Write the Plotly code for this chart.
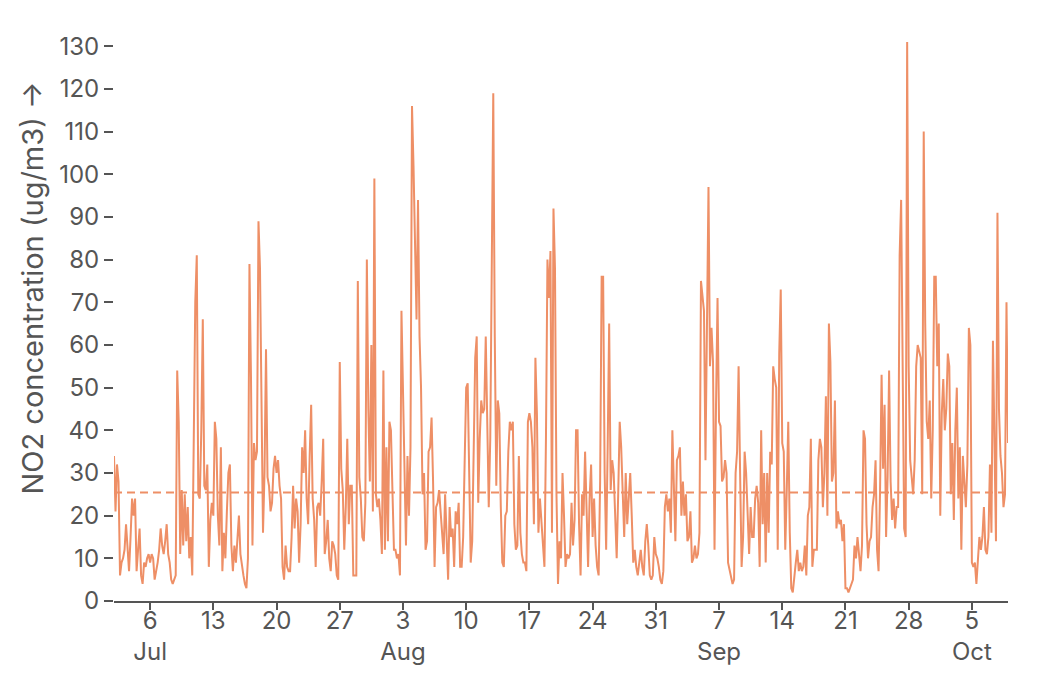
import pandas as pd
import plotly.graph_objects as go

# NO2 concentration (ug/m3) at 4-hour steps, starting 2 Jul 00:00
no2_jul = [
    34, 21, 32, 28, 6, 9,
    10, 12, 18, 11, 7, 15,
    24, 20, 24, 7, 13, 17,
    6, 4, 9, 8, 10, 11,
    9, 11, 10, 5, 7, 9,
    12, 17, 13, 11, 14, 18,
    11, 9, 5, 4, 5, 6,
    54, 42, 11, 26, 13, 25,
    14, 22, 10, 15, 6, 45,
    70, 81, 25, 24, 40, 66,
    27, 26, 32, 8, 19, 23,
    20, 42, 38, 20, 13, 36,
    7, 16, 10, 21, 30, 32,
    13, 7, 13, 9, 14, 20,
    11, 8, 6, 4, 3, 10,
    79, 53, 13, 37, 33, 35,
    89, 78, 45, 16, 30, 59,
    29, 27, 21, 23, 31, 34,
    30, 33, 27, 24, 8, 5,
    13, 8, 7, 7, 15, 27,
    17, 24, 21, 9, 18, 36,
    30, 40, 24, 18, 34, 46,
    24, 19, 8, 22, 23, 20,
    28, 38, 11, 14, 19, 10,
    7, 14, 13, 11, 6, 5,
    56, 31, 26, 12, 22, 38,
    18, 27, 27, 6, 6, 6,
    75, 29, 24, 15, 14, 23,
    80, 45, 28, 60, 21, 99,
    25, 22, 24, 19, 11, 54,
]
no2_aug = [
    12, 36, 14, 42, 40, 24,
    12, 12, 10, 11, 6, 68,
    50, 35, 13, 34, 20, 36,
    116, 102, 86, 66, 94, 62,
    50, 25, 30, 12, 14, 35,
    36, 43, 28, 8, 22, 23,
    26, 21, 17, 11, 25, 14,
    5, 22, 15, 17, 8, 21,
    18, 23, 8, 8, 15, 33,
    50, 51, 28, 9, 14, 42,
    57, 62, 23, 38, 47, 44,
    45, 62, 37, 22, 38, 80,
    119, 62, 27, 47, 44, 22,
    9, 8, 20, 21, 35, 42,
    40, 42, 18, 12, 13, 34,
    16, 11, 9, 9, 7, 42,
    44, 42, 36, 18, 57, 44,
    16, 24, 19, 15, 8, 38,
    80, 71, 82, 16, 92, 78,
    25, 4, 14, 10, 30, 20,
    8, 11, 10, 11, 23, 13,
    19, 40, 40, 18, 6, 25,
    20, 35, 21, 8, 24, 32,
    15, 24, 13, 8, 6, 28,
    76, 76, 30, 12, 36, 65,
    26, 33, 30, 19, 10, 25,
    42, 36, 22, 15, 30, 18,
    24, 30, 20, 9, 12, 8,
    6, 9, 12, 8, 6, 14,
    18, 13, 6, 5, 6, 15,
    11, 10, 8, 5, 4, 7,
]
no2_sep = [
    22, 25, 21, 24, 16, 40,
    29, 14, 33, 34, 36, 20,
    28, 20, 25, 14, 15, 21,
    9, 10, 13, 10, 11, 16,
    75, 71, 68, 33, 66, 97,
    55, 64, 56, 12, 46, 71,
    42, 41, 28, 29, 33, 30,
    9, 7, 6, 4, 5, 30,
    35, 55, 30, 8, 15, 35,
    30, 19, 11, 22, 15, 15,
    24, 27, 23, 8, 40, 18,
    30, 9, 30, 16, 35, 32,
    55, 52, 50, 12, 58, 73,
    37, 35, 12, 26, 42, 16,
    3, 2, 6, 9, 12, 7,
    9, 7, 8, 13, 6, 20,
    22, 38, 8, 12, 12, 12,
    33, 38, 36, 22, 30, 48,
    20, 65, 56, 28, 30, 47,
    17, 21, 18, 19, 14, 18,
    3, 3, 2, 3, 4, 5,
    13, 10, 15, 11, 7, 13,
    40, 38, 18, 10, 14, 15,
    22, 25, 33, 12, 7, 26,
    53, 31, 46, 15, 29, 54,
    28, 19, 24, 17, 22, 22,
    81, 94, 45, 17, 15, 131,
    55, 33, 29, 25, 33, 55,
    60, 58, 57, 25, 110, 65,
    42, 38, 47, 24, 40, 76,
]
no2_oct = [
    76, 55, 65, 20, 44, 52,
    40, 45, 58, 55, 25, 37,
    19, 40, 50, 24, 36, 12,
    34, 28, 22, 32, 64, 60,
    9, 8, 9, 4, 10, 15,
    12, 15, 22, 12, 11, 15,
    32, 16, 61, 38, 14, 91,
    45, 34, 30, 22, 25, 70,
    37,
]
mean_no2 = 25.4
start_time = "2023-07-02 00:00"
sample_step = "4h"

tick_dates = ["2023-07-06", "2023-07-13", "2023-07-20", "2023-07-27",
              "2023-08-03", "2023-08-10", "2023-08-17", "2023-08-24", "2023-08-31",
              "2023-09-07", "2023-09-14", "2023-09-21", "2023-09-28", "2023-10-05"]
tick_labels = ["6<br>Jul", "13", "20", "27", "3<br>Aug", "10", "17", "24", "31",
               "7<br>Sep", "14", "21", "28", "5<br>Oct"]
y_ticks = list(range(0, 131, 10))
y_title = "NO2 concentration (ug/m3) →"

values = no2_jul + no2_aug + no2_sep + no2_oct
times = pd.date_range(start_time, periods=len(values), freq=sample_step)

LINE = "#ee8f66"
TEXT = "#555555"
FONT = "Inter, 'Noto Sans', sans-serif"

fig = go.Figure()
fig.add_trace(go.Scatter(x=times, y=values, mode="lines",
                         line=dict(color=LINE, width=2), hoverinfo="skip"))
fig.add_shape(type="line", xref="paper", x0=0, x1=1, yref="y",
              y0=mean_no2, y1=mean_no2,
              line=dict(color=LINE, width=2, dash="8px,5px"))

# page has an 8px body margin; figure sized so it fits the 1046x694 window
fig.update_layout(
    width=1030, height=678,
    margin=dict(l=106, r=30, t=34, b=85),
    paper_bgcolor="white", plot_bgcolor="white",
    showlegend=False,
    font=dict(family=FONT, size=24, color=TEXT),
)
fig.update_xaxes(
    range=[times[0], times[-1]],
    tickmode="array", tickvals=tick_dates, ticktext=tick_labels,
    ticks="outside", ticklen=7, tickwidth=1.5, tickcolor=TEXT,
    showline=True, linecolor=TEXT, linewidth=1.5,
    showgrid=False, zeroline=False,
)
try:
    fig.update_xaxes(ticklabelstandoff=-10)
except Exception:
    pass
fig.update_yaxes(
    range=[0, 131],
    tickmode="array", tickvals=y_ticks,
    ticks="outside", ticklen=9, tickwidth=1.5, tickcolor=TEXT,
    showline=False, showgrid=False, zeroline=False,
)
fig.add_annotation(text=y_title, xref="paper", yref="paper",
                   x=-0.0906, y=0.186, xanchor="center", yanchor="bottom",
                   textangle=-90, showarrow=False,
                   font=dict(family=FONT, size=29, color=TEXT))

fig.write_html("out.html", config={"displayModeBar": False})
